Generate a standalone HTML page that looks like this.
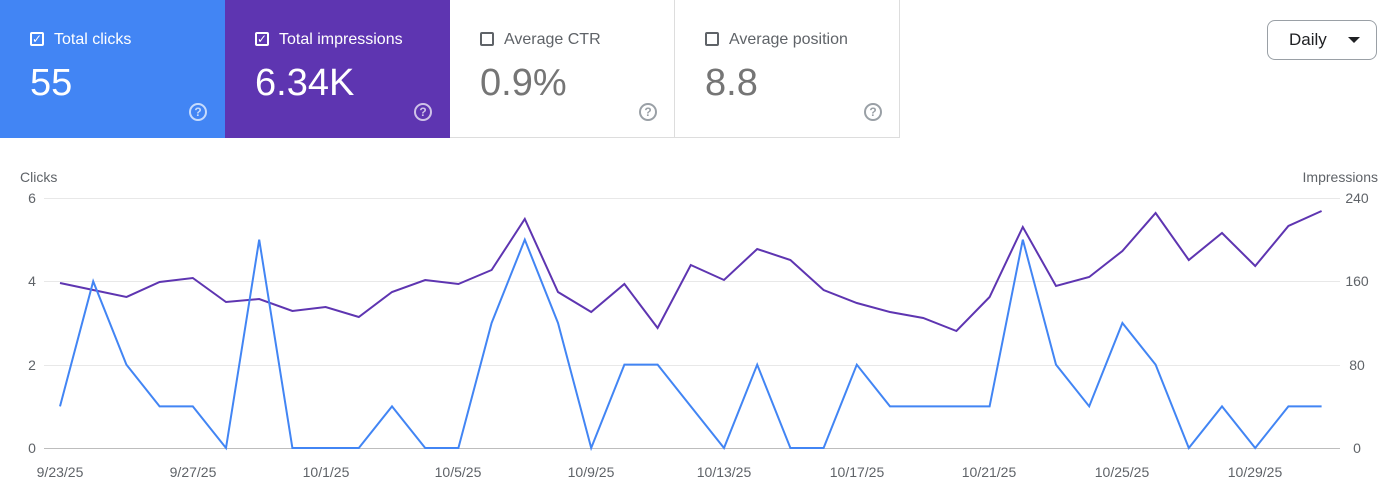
<!DOCTYPE html>
<html><head><style>
body{margin:0;width:1400px;height:500px;background:#fff;font-family:"Liberation Sans",Arial,sans-serif;overflow:hidden;position:relative}
.tile{position:absolute;top:0;height:138px;width:225px;box-sizing:border-box}
.lab{position:absolute;left:54px;top:31px;font-size:16px}
.num{position:absolute;left:30px;top:62px;font-size:38px}
.cb{position:absolute;left:30px;top:32px;width:14px;height:14px;border:2px solid;border-radius:2px;box-sizing:border-box}
.q{position:absolute;left:189px;top:103px;width:18px;height:18px;border:2px solid;border-radius:50%;box-sizing:border-box;font-size:12px;font-weight:bold;text-align:center;line-height:14px}
</style></head><body>
<div class="tile" style="left:0;background:#4285f4;color:#fff">
<div class="cb" style="border-color:#fff;color:#fff;font-size:12px;line-height:10px;text-align:center">✓</div>
<div class="lab">Total clicks</div><div class="num">55</div><div class="q" style="border-color:rgba(255,255,255,.7);color:rgba(255,255,255,.7)">?</div></div>
<div class="tile" style="left:225px;background:#5e35b1;color:#fff">
<div class="cb" style="border-color:#fff;color:#fff;font-size:12px;line-height:10px;text-align:center">✓</div>
<div class="lab">Total impressions</div><div class="num">6.34K</div><div class="q" style="border-color:rgba(255,255,255,.7);color:rgba(255,255,255,.7)">?</div></div>
<div class="tile" style="left:450px;border-right:1px solid #ddd;border-bottom:1px solid #ddd;color:#5f6368">
<div class="cb" style="border-color:#5f6368"></div>
<div class="lab">Average CTR</div><div class="num" style="color:#757575">0.9%</div><div class="q" style="border-color:#9aa0a6;color:#9aa0a6">?</div></div>
<div class="tile" style="left:675px;border-right:1px solid #ddd;border-bottom:1px solid #ddd;color:#5f6368">
<div class="cb" style="border-color:#5f6368"></div>
<div class="lab">Average position</div><div class="num" style="color:#757575">8.8</div><div class="q" style="border-color:#9aa0a6;color:#9aa0a6">?</div></div>
<div style="position:absolute;left:1267px;top:20px;width:110px;height:40px;border:1px solid #9aa0a6;border-radius:8px;box-sizing:border-box;font-size:17px;color:#202124;line-height:38px;padding-left:21px">Daily<span style="position:absolute;left:80px;top:16px;border-left:6px solid transparent;border-right:6px solid transparent;border-top:6px solid #202124"></span></div>
<svg width="1400" height="500" style="position:absolute;left:0;top:0" font-family="Liberation Sans,Arial,sans-serif" font-size="14" fill="#5f6368">
<text x="20" y="182">Clicks</text>
<text x="1378" y="182" text-anchor="end">Impressions</text>
<g stroke="#e8e8e8" stroke-width="1"><line x1="44" x2="1340" y1="198.5" y2="198.5"/><line x1="44" x2="1340" y1="281.5" y2="281.5"/><line x1="44" x2="1340" y1="365.5" y2="365.5"/></g>
<line x1="44" x2="1340" y1="448.5" y2="448.5" stroke="#bdbdbd"/>
<g text-anchor="middle"><text x="32" y="203">6</text><text x="32" y="286">4</text><text x="32" y="370">2</text><text x="32" y="453">0</text>
<text x="1357" y="203">240</text><text x="1357" y="286">160</text><text x="1357" y="370">80</text><text x="1357" y="453">0</text>
<text x="60" y="477">9/23/25</text><text x="193" y="477">9/27/25</text><text x="326" y="477">10/1/25</text><text x="458" y="477">10/5/25</text><text x="591" y="477">10/9/25</text><text x="724" y="477">10/13/25</text><text x="857" y="477">10/17/25</text><text x="989" y="477">10/21/25</text><text x="1122" y="477">10/25/25</text><text x="1255" y="477">10/29/25</text></g>
<polyline id="p" fill="none" stroke="#5e35b1" stroke-width="2" points=""/>
<polyline id="b" fill="none" stroke="#4285f4" stroke-width="2" points=""/>
</svg>
<script>
var pu=[283,290,297,282,278,302,299,311,307,317,292,280,284,270,219,292,312,284,328,265,280,249,260,290,303,312,318,331,297,227,286,277,251,213,260,233,266,226,211];
var cl=[1,4,2,1,1,0,5,0,0,0,1,0,0,3,5,3,0,2,2,1,0,2,0,0,2,1,1,1,1,5,2,1,3,2,0,1,0,1,1];
var a=[],b=[];
for(var i=0;i<39;i++){var x=60+i*33.2;a.push(x+","+pu[i]);b.push(x+","+(448-cl[i]*41.67));}
document.getElementById('p').setAttribute('points',a.join(' '));
document.getElementById('b').setAttribute('points',b.join(' '));
</script>
</body></html>
